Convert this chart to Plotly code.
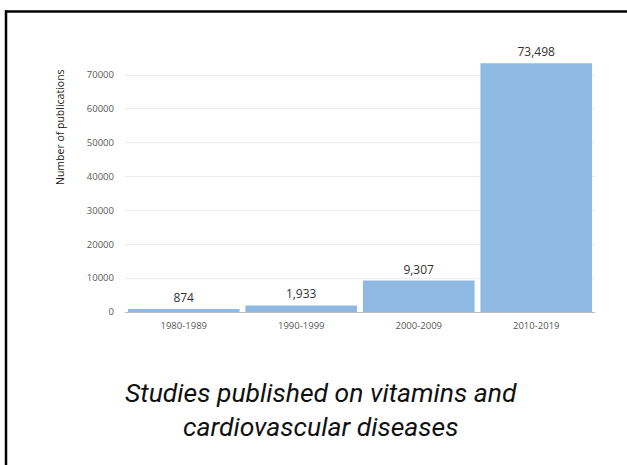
import plotly.graph_objects as go

decades = ["1980-1989", "1990-1999", "2000-2009", "2010-2019"]
publications = [874, 1933, 9307, 73498]
y_ticks = [0, 10000, 20000, 30000, 40000, 50000, 60000, 70000]

W, H = 627, 465
L, R, T, B = 125, 32, 48, 153
pw, ph = W - L - R, H - T - B


def px_x(x):
    return (x - L) / pw


def px_y(y):
    return (H - B - y) / ph


fig = go.Figure()
fig.add_trace(go.Bar(
    x=decades,
    y=publications,
    marker=dict(color="#8db9e3", line=dict(width=0)),
    text=[f"{v:,}" for v in publications],
    textposition="outside",
    textfont=dict(family="Open Sans, sans-serif", size=12, color="#333333"),
    cliponaxis=False,
))

fig.update_layout(
    width=W, height=H,
    margin=dict(l=L, r=R, t=T, b=B),
    paper_bgcolor="white",
    plot_bgcolor="white",
    showlegend=False,
    bargap=0.05,
    xaxis=dict(
        showgrid=False,
        showline=True, linecolor="#bfbfbf", linewidth=1,
        ticks="",
        ticklabelstandoff=5,
        tickfont=dict(family="Open Sans, sans-serif", size=9.5, color="#595959"),
    ),
    yaxis=dict(
        range=[0, 78000],
        tickvals=y_ticks,
        ticktext=[str(v) for v in y_ticks],
        showgrid=True, gridcolor="#ececec", gridwidth=1,
        zeroline=False, showline=False,
        tickfont=dict(family="Open Sans, sans-serif", size=9.5, color="#595959"),
        ticklabelstandoff=10,
    ),
    annotations=[
        dict(
            text="Number of publications",
            textangle=-90,
            xref="paper", yref="paper",
            x=px_x(60), y=px_y(127),
            xanchor="center", yanchor="middle",
            showarrow=False,
            font=dict(family="Open Sans, sans-serif", size=10.5, color="#222222"),
        ),
        dict(
            text="<i>Studies published on vitamins and<br>cardiovascular diseases</i>",
            xref="paper", yref="paper",
            x=px_x(321), y=px_y(409),
            xanchor="center", yanchor="middle",
            showarrow=False,
            align="center",
            font=dict(family="Roboto, sans-serif", size=26.5, color="#111111"),
        ),
    ],
    shapes=[
        # left edge of the frame
        dict(type="line", xref="paper", yref="paper",
             x0=px_x(6), x1=px_x(6), y0=px_y(10.5), y1=px_y(465),
             line=dict(color="black", width=2.5)),
        # top edge of the frame, as a thin filled band
        dict(type="rect", xref="paper", yref="paper",
             x0=px_x(5), x1=px_x(627), y0=px_y(10.3), y1=px_y(12.7),
             fillcolor="black", line=dict(width=0)),
    ],
)

fig.write_html("out.html")
